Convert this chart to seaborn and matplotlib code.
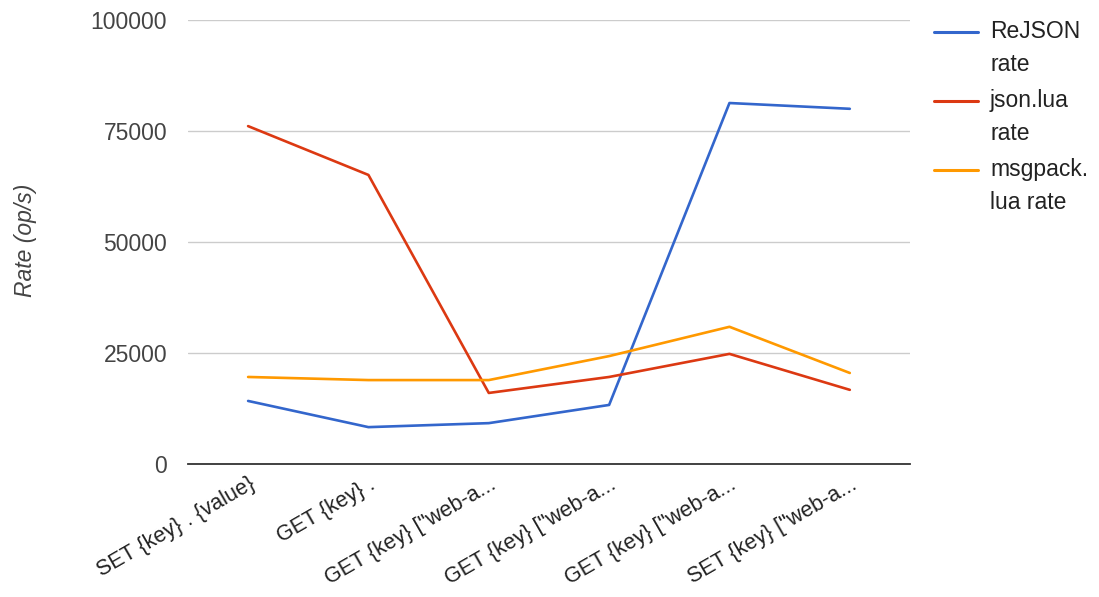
import matplotlib
matplotlib.use("Agg")
import matplotlib.pyplot as plt
import seaborn as sns
import pandas as pd
from matplotlib.lines import Line2D

categories = [
    'SET {key} . {value}',
    'GET {key} .',
    'GET {key} ["web-a...',
    'GET {key} ["web-a... ',
    'GET {key} ["web-a...  ',
    'SET {key} ["web-a...',
]
rejson_rate = [14200, 8300, 9200, 13300, 81300, 80000]
jsonlua_rate = [76100, 65100, 16000, 19600, 24800, 16700]
msgpack_rate = [19600, 18900, 18900, 24300, 30900, 20500]
series_names = ["ReJSON\nrate", "json.lua\nrate", "msgpack.\nlua rate"]
colors = ["#3366CC", "#DC3912", "#FF9900"]
yticks = [0, 25000, 50000, 75000, 100000]

rows = []
for name, vals in zip(series_names, [rejson_rate, jsonlua_rate, msgpack_rate]):
    for i, (c, v) in enumerate(zip(categories, vals)):
        rows.append({"pos": i, "cat": c, "series": name, "rate": v})
df = pd.DataFrame(rows)

sns.set_theme(style="white")
plt.rcParams['font.family'] = ['Liberation Sans', 'DejaVu Sans']

FS = 16.5
fig = plt.figure(figsize=(10.99, 5.97), dpi=100)
ax = fig.add_axes([0.171, 0.2228, 0.657, 0.7437])

sns.lineplot(data=df, x="pos", y="rate", hue="series", palette=colors,
             linewidth=1.9, ax=ax, sort=False, legend=False)

ax.set_xlim(-0.5, len(categories) - 0.5)
ax.set_ylim(0, 100000)
ax.set_yticks(yticks)
ax.set_yticklabels([str(t) for t in yticks], fontsize=FS, color="#444444")
ax.set_xticks(range(len(categories)))
ax.set_xticklabels([c.strip() for c in categories], rotation=30, ha="right",
                   rotation_mode="anchor", fontsize=15.5, color="#222222")
ax.tick_params(axis="y", length=0, pad=15)
ax.tick_params(axis="x", length=0, pad=7)
ax.yaxis.grid(True, color="#cccccc", linewidth=1)
ax.set_axisbelow(True)
for s in ["top", "right", "left"]:
    ax.spines[s].set_visible(False)
ax.spines["bottom"].set_color("#333333")
ax.spines["bottom"].set_linewidth(1.3)
ax.set_xlabel("")
ax.set_ylabel("")
fig.text(0.023, 0.598, "Rate (op/s)", rotation=90, fontsize=FS, style="italic",
         color="#444444", ha="center", va="center")

# legend: handle aligned with the first line of each wrapped label
W, H = 1099.0, 597.0
entry_y = [32, 101, 170]
for name, col, yp in zip(series_names, colors, entry_y):
    fig.add_artist(Line2D([934 / W, 978 / W], [1 - yp / H, 1 - yp / H],
                          color=col, linewidth=2.2, transform=fig.transFigure))
    fig.text(990 / W, 1 - (yp - 12) / H, name, fontsize=FS, color="#222222",
             ha="left", va="top", linespacing=1.55)

fig.savefig("out.png", dpi=100)
